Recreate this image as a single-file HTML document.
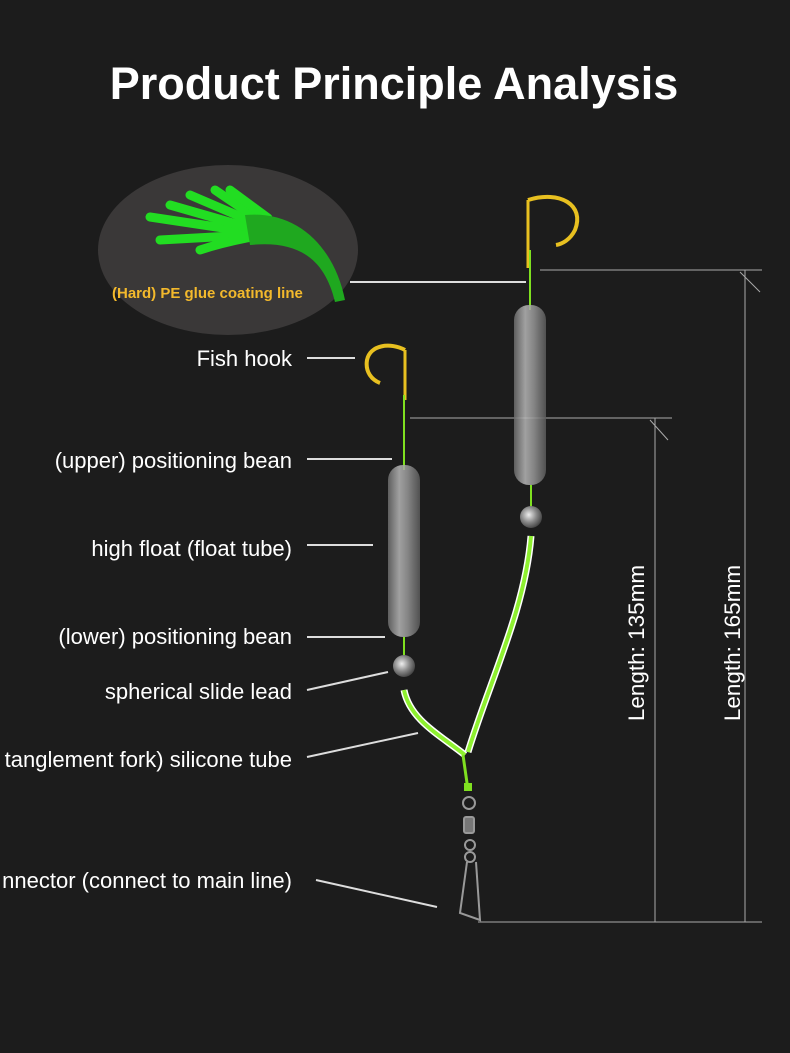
<!DOCTYPE html>
<html><head><meta charset="utf-8"><style>
html,body{margin:0;padding:0;background:#1c1c1c;}
svg{display:block}
</style></head><body>
<svg width="790" height="1053" viewBox="0 0 790 1053" xmlns="http://www.w3.org/2000/svg">
<defs>
<linearGradient id="tube" x1="0" x2="1">
<stop offset="0" stop-color="#6a6a6a"/><stop offset="0.35" stop-color="#b8b8b8"/><stop offset="0.6" stop-color="#9a9a9a"/><stop offset="1" stop-color="#5a5a5a"/></linearGradient>
<radialGradient id="bead" cx="0.4" cy="0.4" r="0.7"><stop offset="0" stop-color="#eee"/><stop offset="0.5" stop-color="#888"/><stop offset="1" stop-color="#333"/></radialGradient>
</defs>
<rect width="790" height="1053" fill="#1c1c1c"/>
<text x="394" y="99" text-anchor="middle" font-family="Liberation Sans, sans-serif" font-weight="bold" font-size="45" fill="#fff">Product Principle Analysis</text>

<ellipse cx="228" cy="250" rx="130" ry="85" fill="#3a3838"/>
<g stroke="#22dd22" stroke-width="9" stroke-linecap="round" fill="none">
<path d="M150 217 L250 232"/><path d="M160 240 L250 235"/><path d="M170 205 L250 228"/><path d="M190 195 L260 225"/>
<path d="M215 190 L262 222"/><path d="M230 190 L268 218"/><path d="M200 250 C230 240 250 238 260 235"/>
</g>
<path d="M245 215 C300 210 335 250 345 300 L335 302 C325 260 300 240 250 245 Z" fill="#1fa81f"/>
<text x="112" y="298" font-family="Liberation Sans, sans-serif" font-weight="bold" font-size="15" fill="#f3b92c">(Hard) PE glue coating line</text>
<line x1="350" y1="282" x2="526" y2="282" stroke="#ddd" stroke-width="2"/>

<g stroke="#aaa" stroke-width="1" fill="none">
<line x1="540" y1="270" x2="762" y2="270"/>
<line x1="410" y1="418" x2="672" y2="418"/>
<line x1="478" y1="922" x2="762" y2="922"/>
<line x1="745" y1="270" x2="745" y2="922"/>
<line x1="655" y1="418" x2="655" y2="922"/>
<line x1="740" y1="272" x2="760" y2="292"/>
<line x1="650" y1="420" x2="668" y2="440"/>
</g>
<text transform="translate(644,643) rotate(-90)" text-anchor="middle" font-family="Liberation Sans, sans-serif" font-size="22.5" fill="#fff">Length: 135mm</text>
<text transform="translate(740,643) rotate(-90)" text-anchor="middle" font-family="Liberation Sans, sans-serif" font-size="22.5" fill="#fff">Length: 165mm</text>

<path d="M528 200 L528 268" stroke="#e8c020" stroke-width="3" fill="none"/>
<path d="M528 200 C560 190 585 205 575 230 C570 240 562 244 556 245" stroke="#e8c020" stroke-width="4" fill="none"/>
<line x1="530" y1="250" x2="530" y2="310" stroke="#7fe020" stroke-width="2"/>
<rect x="514" y="305" width="32" height="180" rx="15" fill="url(#tube)" opacity="0.85"/>
<line x1="531" y1="485" x2="531" y2="507" stroke="#7fe020" stroke-width="2"/>
<circle cx="531" cy="517" r="11" fill="url(#bead)"/>
<path d="M531 536 C525 610 490 680 468 752" stroke="#fff" stroke-width="7" fill="none"/>
<path d="M531 536 C525 610 490 680 468 752" stroke="#8ef030" stroke-width="4" fill="none"/>

<path d="M405 350 L405 400" stroke="#e8c020" stroke-width="3" fill="none"/>
<path d="M405 350 C390 342 370 345 367 360 C365 372 372 380 380 383" stroke="#e8c020" stroke-width="4" fill="none"/>
<line x1="404" y1="395" x2="404" y2="470" stroke="#7fe020" stroke-width="2"/>
<rect x="388" y="465" width="32" height="172" rx="15" fill="url(#tube)" opacity="0.85"/>
<line x1="404" y1="637" x2="404" y2="655" stroke="#7fe020" stroke-width="2"/>
<circle cx="404" cy="666" r="11" fill="url(#bead)"/>
<path d="M404 690 C410 720 440 735 465 755" stroke="#fff" stroke-width="7" fill="none"/>
<path d="M404 690 C410 720 440 735 465 755" stroke="#8ef030" stroke-width="4" fill="none"/>

<path d="M463 755 L468 790" stroke="#7fe020" stroke-width="3"/>
<rect x="464" y="783" width="8" height="8" fill="#7fe020"/>
<g stroke="#999" stroke-width="2" fill="none">
<circle cx="469" cy="803" r="6"/>
<rect x="464" y="817" width="10" height="16" rx="2" fill="#777"/>
<circle cx="470" cy="845" r="5"/><circle cx="470" cy="857" r="5"/>
<path d="M467 862 L460 913 L480 920 L476 862"/>
</g>

<g font-family="Liberation Sans, sans-serif" font-size="22" fill="#fff" text-anchor="end">
<text x="292" y="366">Fish hook</text>
<text x="292" y="468">(upper) positioning bean</text>
<text x="292" y="556">high float (float tube)</text>
<text x="292" y="644">(lower) positioning bean</text>
<text x="292" y="699">spherical slide lead</text>
<text x="292" y="767">tanglement fork) silicone tube</text>
<text x="292" y="888">nnector (connect to main line)</text>
</g>
<g stroke="#ddd" stroke-width="2">
<line x1="307" y1="358" x2="355" y2="358"/>
<line x1="307" y1="459" x2="392" y2="459"/>
<line x1="307" y1="545" x2="373" y2="545"/>
<line x1="307" y1="637" x2="385" y2="637"/>
<line x1="307" y1="690" x2="388" y2="672"/>
<line x1="307" y1="757" x2="418" y2="733"/>
<line x1="316" y1="880" x2="437" y2="907"/>
</g>
</svg>
</body></html>
